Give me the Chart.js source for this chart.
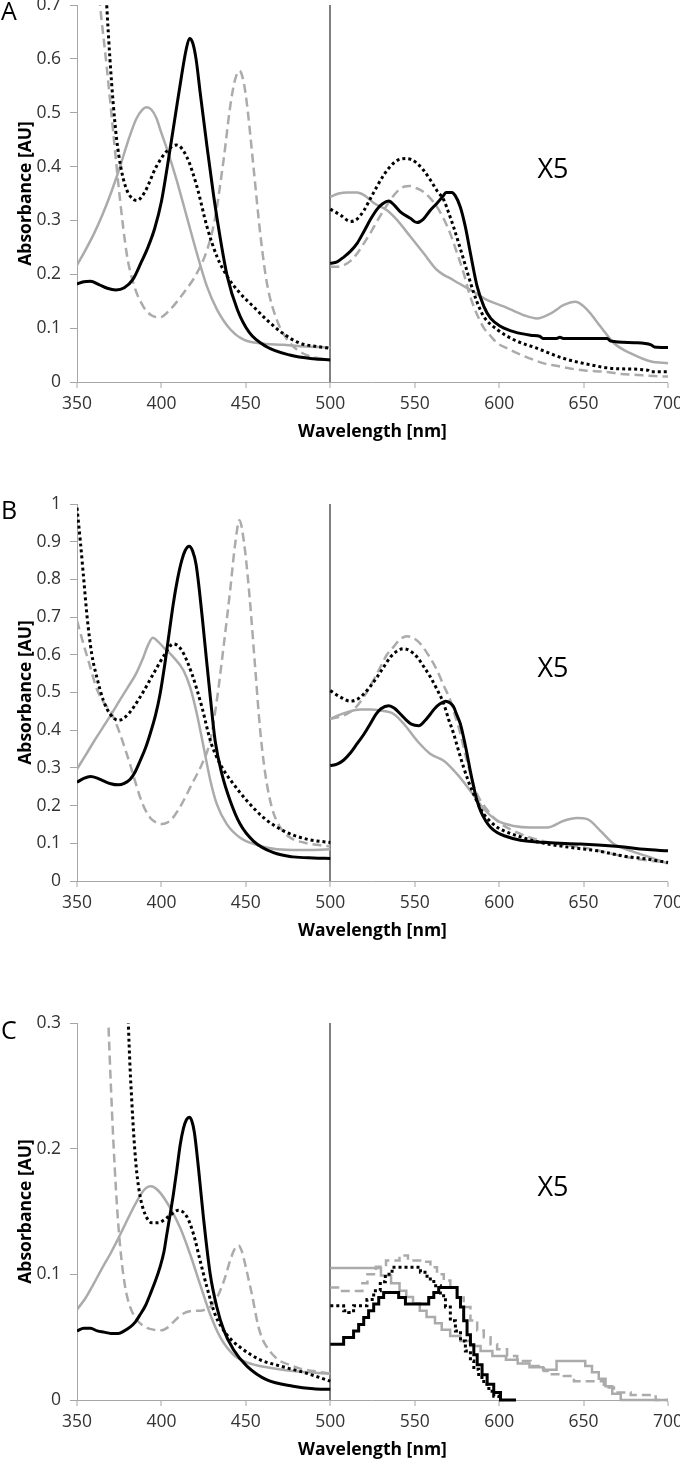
<!DOCTYPE html>
<html>
<head>
<meta charset="utf-8">
<script src="https://cdn.jsdelivr.net/npm/chart.js@4.4.1/dist/chart.umd.min.js"></script>
<style>
  html, body { margin: 0; padding: 0; background: #fff; overflow: hidden; }
  .panel { position: absolute; left: 0; width: 680px; height: 459px; }
</style>
</head>
<body>
<div class="panel" style="top:-15px"><canvas id="chartA"></canvas></div>
<div class="panel" style="top:484px"><canvas id="chartB"></canvas></div>
<div class="panel" style="top:1003px"><canvas id="chartC"></canvas></div>
<script>
// [wavelength nm, absorbance AU]; right halves (500-700 nm) are shown x5
const xTicks = [350, 400, 450, 500, 550, 600, 650, 700];

// ---- panel A ----
const aBlackL = [[350,0.182],[354,0.186],[358,0.187],[363,0.181],[368,0.174],[373,0.171],[378,0.175],[383,0.19],[388,0.222],[392,0.25],[396,0.285],[400,0.335],[404,0.41],[408,0.49],[412,0.57],[414.5,0.615],[416.6,0.638],[418.5,0.63],[420.5,0.6],[423,0.536],[427,0.437],[431,0.344],[435,0.264],[439,0.196],[445,0.134],[452,0.092],[462,0.066],[476,0.05],[490,0.043],[500,0.041]];
const aDotL = [[363,1.0],[366,0.8],[367.6,0.7],[369.5,0.6],[371.5,0.515],[373.5,0.45],[376,0.398],[378.5,0.365],[381.5,0.345],[385.5,0.337],[390,0.352],[397,0.4],[403,0.428],[409,0.44],[415,0.418],[421,0.363],[427,0.288],[433,0.232],[439,0.196],[446.5,0.165],[454.5,0.14],[462.5,0.115],[472,0.09],[482,0.072],[492,0.066],[500,0.0625]];
const aGreyL = [[350,0.217],[355,0.245],[360,0.275],[365,0.31],[370,0.35],[375,0.395],[380,0.445],[385,0.488],[388.5,0.505],[391.3,0.51],[394,0.506],[397,0.49],[400,0.462],[403,0.435],[409,0.375],[415,0.307],[421,0.239],[427,0.177],[433,0.134],[441,0.097],[449,0.078],[458,0.072],[472,0.069],[486,0.066],[500,0.064]];
const aDashL = [[358,0.87],[361,0.78],[363.6,0.7],[367.6,0.585],[371.5,0.462],[375.5,0.338],[379.4,0.239],[383.4,0.183],[389.3,0.14],[394,0.124],[399,0.12],[405,0.134],[413,0.165],[421,0.202],[427,0.245],[431.5,0.3],[436.8,0.412],[440.7,0.511],[443.5,0.56],[446.2,0.578],[448.5,0.56],[450.6,0.517],[454.5,0.4],[458.5,0.276],[462.5,0.183],[468.4,0.115],[476.3,0.072],[486,0.05],[500,0.041]];
const aBlackR = [[500,0.22],[504,0.223],[508,0.232],[512,0.243],[516,0.258],[520,0.28],[524,0.303],[528,0.322],[531,0.331],[534.6,0.336],[538,0.328],[541.5,0.316],[547.4,0.304],[551.4,0.296],[555,0.302],[559,0.318],[563.2,0.332],[567,0.346],[568.5,0.352],[572,0.352],[574,0.346],[577,0.325],[580,0.288],[583,0.239],[587,0.177],[591,0.14],[595,0.118],[601,0.103],[609,0.093],[618.6,0.087],[624,0.085],[626,0.081],[634,0.081],[636,0.083],[638,0.081],[664,0.081],[666,0.076],[680,0.073],[690,0.069],[692,0.065],[700,0.064]];
const aDotR = [[500,0.321],[506,0.31],[512,0.298],[516,0.303],[520,0.319],[524,0.342],[528,0.365],[532,0.386],[536,0.402],[540,0.412],[544.5,0.415],[548,0.413],[551.4,0.406],[555,0.394],[559.3,0.375],[563,0.356],[567.2,0.338],[570,0.315],[573,0.288],[576,0.258],[579,0.227],[582,0.195],[585,0.165],[588,0.14],[591,0.121],[599,0.097],[609,0.078],[622.5,0.0625],[638,0.044],[654,0.032],[668,0.025],[688,0.022],[690,0.019],[700,0.019]];
const aGreyR = [[500,0.344],[505,0.35],[510,0.352],[516,0.352],[520,0.347],[526,0.332],[533.6,0.319],[539.5,0.301],[547.4,0.27],[555.3,0.239],[563.2,0.208],[573,0.189],[583,0.171],[593,0.152],[603,0.14],[614.6,0.124],[622.5,0.118],[630.4,0.127],[638.3,0.143],[645.3,0.149],[652.2,0.134],[660,0.103],[668,0.072],[678,0.053],[690,0.038],[700,0.035]];
const aDashR = [[500,0.214],[504,0.214],[508,0.217],[512,0.225],[516,0.239],[520,0.258],[524,0.278],[528,0.3],[532,0.321],[536,0.34],[540,0.355],[544,0.363],[547,0.364],[551,0.36],[555.3,0.353],[559,0.342],[563,0.326],[567,0.304],[571,0.276],[575,0.24],[579,0.202],[582,0.168],[585,0.14],[588,0.118],[591,0.1],[595,0.085],[599,0.072],[605,0.062],[611,0.053],[618,0.044],[626,0.035],[634,0.03],[642,0.025],[652,0.021],[662,0.019],[672,0.015],[682,0.013],[692,0.011],[700,0.01]];

// ---- panel B ----
const bBlackL = [[350,0.262],[354,0.272],[358,0.277],[362,0.273],[366,0.265],[370,0.258],[374.5,0.255],[378,0.259],[381.5,0.27],[384.5,0.29],[387.4,0.319],[390.5,0.352],[393.3,0.39],[396.5,0.44],[399.2,0.496],[402,0.575],[404.5,0.655],[407,0.735],[409.5,0.8],[412,0.85],[414,0.876],[416.4,0.888],[418.5,0.875],[420.5,0.84],[422.5,0.77],[424.5,0.685],[426.5,0.595],[428.9,0.49],[431.8,0.372],[435.8,0.284],[440.7,0.213],[446.6,0.151],[454.5,0.106],[466.4,0.075],[478,0.064],[490,0.061],[500,0.06]];
const bDotL = [[350,0.99],[352,0.9],[354,0.8],[356,0.7],[358.7,0.603],[361.7,0.541],[365.6,0.479],[369.6,0.443],[374.5,0.426],[380.4,0.443],[387.4,0.488],[395.3,0.55],[402.2,0.603],[407,0.629],[412,0.612],[418,0.55],[424,0.461],[429,0.372],[434.8,0.31],[442.7,0.257],[450.6,0.213],[460.5,0.168],[472.3,0.133],[486,0.111],[500,0.102]];
const bGreyL = [[350,0.297],[355,0.333],[360,0.37],[365,0.405],[370,0.44],[375,0.477],[380,0.513],[385,0.55],[389,0.59],[392,0.625],[394.9,0.645],[398,0.635],[401.2,0.62],[407.1,0.594],[413,0.559],[417,0.514],[421,0.443],[425,0.355],[429,0.266],[432.8,0.204],[438.7,0.151],[446.6,0.115],[456.5,0.096],[468.4,0.084],[482,0.082],[500,0.084]];
const bDashL = [[350,0.691],[353.8,0.629],[357.7,0.57],[361.7,0.51],[365.6,0.475],[369.6,0.452],[372.5,0.425],[375.5,0.39],[378.5,0.35],[381.4,0.31],[384.4,0.265],[387.4,0.222],[390.3,0.19],[393.3,0.168],[396.5,0.156],[400.2,0.151],[403,0.154],[406.1,0.164],[412,0.204],[418,0.257],[424,0.31],[428.9,0.372],[432.8,0.479],[436.8,0.621],[440.7,0.771],[443.7,0.895],[446.2,0.957],[449,0.895],[452.2,0.754],[455.5,0.567],[458.5,0.399],[461.5,0.284],[465.4,0.195],[470.4,0.142],[476.3,0.115],[484.2,0.102],[492,0.096],[500,0.092]];
const bBlackR = [[500,0.306],[504,0.31],[508,0.321],[512,0.34],[516,0.365],[520,0.39],[523.7,0.417],[527,0.442],[530,0.457],[534.6,0.465],[538,0.458],[541.5,0.443],[545,0.427],[548,0.416],[552.4,0.412],[556,0.425],[559.3,0.443],[562,0.458],[565,0.47],[568.2,0.477],[571,0.472],[573,0.462],[575,0.44],[577,0.417],[579,0.38],[581,0.337],[583,0.29],[585,0.248],[587,0.212],[589,0.186],[592,0.16],[595,0.142],[599,0.128],[603,0.12],[612.6,0.108],[628.5,0.102],[648,0.098],[674,0.09],[686,0.084],[700,0.08]];
const bDotR = [[500,0.505],[505.9,0.488],[511.9,0.477],[516,0.482],[519.8,0.496],[524,0.518],[527.7,0.541],[532,0.57],[535.6,0.594],[540,0.611],[543.5,0.616],[547,0.611],[551.4,0.594],[555,0.571],[559.3,0.541],[563,0.51],[567.2,0.47],[570,0.43],[573.1,0.39],[576,0.345],[579,0.301],[582,0.262],[585,0.23],[588,0.2],[591,0.177],[595,0.157],[599,0.142],[605,0.129],[610.7,0.12],[624.5,0.102],[642.3,0.089],[658,0.08],[674,0.066],[688,0.058],[700,0.049]];
const bGreyR = [[500,0.43],[505,0.44],[510,0.448],[517.8,0.455],[524,0.455],[529.6,0.452],[537.5,0.443],[543.5,0.417],[551.4,0.372],[559.3,0.337],[567.2,0.319],[575,0.284],[583,0.239],[591,0.191],[599,0.16],[608.7,0.146],[618.6,0.142],[628.5,0.142],[638.3,0.16],[646.2,0.167],[652.2,0.164],[660,0.133],[668,0.098],[678,0.08],[690,0.062],[700,0.046]];
const bDashR = [[500,0.43],[505,0.435],[509.9,0.443],[515,0.46],[519.8,0.488],[524,0.52],[529.6,0.567],[533.5,0.6],[537.5,0.621],[541,0.64],[545.5,0.649],[549,0.645],[553.4,0.629],[558,0.6],[563.2,0.559],[567,0.52],[571.1,0.479],[574,0.437],[577.1,0.39],[580,0.335],[583,0.284],[586,0.24],[589,0.213],[593,0.188],[596.8,0.168],[601,0.152],[606.7,0.137],[618.6,0.115],[634.4,0.098],[650,0.089],[668,0.071],[682,0.058],[700,0.049]];

// ---- panel C ----
const cBlackL = [[350,0.055],[354,0.057],[358,0.057],[362,0.055],[366,0.054],[370,0.053],[374.5,0.053],[378,0.055],[381.4,0.058],[384.5,0.062],[387.4,0.068],[390.5,0.075],[393.3,0.084],[396.5,0.095],[399.2,0.106],[401.5,0.118],[403.2,0.132],[405.2,0.148],[407.1,0.164],[409.2,0.184],[411.1,0.203],[413,0.216],[414.8,0.223],[416.6,0.225],[418,0.222],[419.5,0.213],[421.9,0.185],[424.9,0.145],[428.9,0.1],[432.8,0.074],[436.8,0.056],[442.7,0.04],[450.6,0.027],[462.5,0.016],[478,0.011],[490,0.009],[500,0.0085]];
const cDotL = [[377.5,0.45],[379,0.36],[380.4,0.3],[381.4,0.265],[382.4,0.239],[383.8,0.207],[385.4,0.181],[387.4,0.162],[390.3,0.148],[394.3,0.141],[398,0.141],[401.2,0.143],[405.1,0.147],[410.1,0.151],[415,0.146],[419,0.132],[422.9,0.111],[426.9,0.09],[431.8,0.068],[438.7,0.052],[446.6,0.042],[458.5,0.032],[470.4,0.027],[484.2,0.022],[500,0.015]];
const cGreyL = [[350,0.072],[355,0.081],[359.7,0.092],[364.5,0.104],[369.6,0.116],[373.5,0.126],[377.5,0.137],[381.5,0.148],[385.4,0.158],[388,0.164],[390.3,0.168],[393.3,0.17],[396,0.169],[399.2,0.165],[405.1,0.153],[411.1,0.137],[417,0.116],[422.9,0.092],[428.9,0.068],[434.8,0.05],[442.7,0.036],[450.6,0.03],[462.5,0.026],[478,0.023],[500,0.021]];
const cDashL = [[365,0.43],[367,0.36],[368.6,0.3],[370,0.252],[371.5,0.207],[373.1,0.167],[374.9,0.132],[377.1,0.103],[379.4,0.084],[383.4,0.068],[389.3,0.059],[395.3,0.056],[400,0.0555],[404,0.058],[407.1,0.062],[411,0.067],[415,0.07],[419,0.071],[422.9,0.071],[426,0.072],[428.9,0.074],[431.8,0.079],[434.8,0.087],[437.8,0.098],[440.7,0.111],[443.3,0.12],[445.7,0.123],[447.7,0.118],[449.6,0.108],[451.6,0.096],[453.6,0.084],[455.6,0.07],[457.5,0.058],[460,0.048],[462.5,0.042],[466,0.036],[470.4,0.031],[476,0.028],[482.2,0.025],[490,0.023],[500,0.021]];
// stepped: each point is where the reading changes to the new level
const cBlackR = [[500,0.0444],[507.9,0.0497],[513.8,0.055],[516.8,0.06],[519.8,0.0657],[522.7,0.071],[525.7,0.0763],[528.7,0.0816],[531.6,0.0856],[540.5,0.0816],[544.5,0.0763],[558.3,0.0816],[561.3,0.0856],[564.2,0.0896],[575.1,0.0816],[577.1,0.074],[579,0.063],[581,0.052],[583,0.044],[585,0.036],[587,0.028],[589.9,0.02],[592.9,0.0125],[596.8,0.006],[600.8,0],[610,0]];
const cDotR = [[500,0.075],[507.9,0.071],[510.9,0.0697],[513.8,0.075],[521.7,0.08],[525.7,0.087],[529.6,0.094],[532.6,0.1],[536.6,0.1056],[553.4,0.1016],[557.3,0.0963],[561.3,0.091],[565.2,0.083],[568.2,0.074],[571.1,0.063],[574.1,0.055],[577.1,0.047],[580,0.039],[583,0.031],[585,0.0245],[587.9,0.018],[590.9,0.0125],[593.9,0.007],[596.8,0.003],[599.8,0]];
const cGreyR = [[500,0.105],[530,0.099],[536,0.093],[541,0.087],[545,0.082],[549,0.077],[553,0.071],[557,0.066],[562,0.061],[566,0.056],[571,0.051],[577,0.047],[583,0.043],[589,0.039],[596,0.035],[604,0.032],[611,0.029],[618,0.026],[626,0.024],[634,0.031],[651,0.027],[655,0.022],[659,0.017],[663,0.011],[667,0.005],[672,0],[700,0]];
const cDashR = [[500,0.0896],[506,0.0868],[519,0.093],[522,0.1],[527,0.106],[533,0.111],[541,0.115],[546,0.111],[555.3,0.11],[559.3,0.1056],[563.2,0.1],[567.2,0.095],[571.1,0.0896],[575.1,0.0816],[579,0.074],[583,0.0633],[587,0.0553],[590.9,0.05],[594.9,0.0444],[598.8,0.0404],[604.7,0.035],[610.7,0.031],[618.6,0.0271],[626.5,0.0231],[630.4,0.0205],[638.3,0.019],[644.3,0.015],[662,0.01],[668,0.006],[677.9,0.004],[692.7,0],[700,0]];

Chart.defaults.font.family = "'Open Sans', sans-serif";

const BLACK = '#000000';
const GREY = '#ababab';

function line(points, color, width, dash, stepped) {
  return {
    data: points.map(p => ({ x: p[0], y: p[1] })),
    borderColor: color,
    borderWidth: width,
    borderDash: dash,
    borderCapStyle: 'butt',
    pointRadius: 0,
    fill: false,
    cubicInterpolationMode: 'monotone',
    stepped: stepped ? 'before' : false,
    clip: { left: 0, top: 0, right: 2, bottom: 3 }
  };
}

const labels = {
  id: 'panelLabels',
  afterDraw(chart, args, opts) {
    const ctx = chart.ctx;
    ctx.save();
    ctx.fillStyle = '#000';
    ctx.textBaseline = 'middle';
    ctx.textAlign = 'left';
    ctx.font = "25px 'Open Sans'";
    ctx.fillText(opts.letter, 1, opts.letterY);
    ctx.textAlign = 'center';
    ctx.font = "27px 'Open Sans'";
    ctx.fillText('X5', 553, 185);
    ctx.restore();
  }
};

function makePanel(id, letter, letterY, yMax, s, stepRight) {
  new Chart(document.getElementById(id), {
    type: 'line',
    data: {
      datasets: [
        line(s.blackL, BLACK, 3, [], false),
        line(s.blackR, BLACK, 3, [], stepRight),
        line(s.dotL, BLACK, 3, [3, 3], false),
        line(s.dotR, BLACK, 3, [3, 3], stepRight),
        line(s.greyL, GREY, 2.5, [], false),
        line(s.greyR, GREY, 2.5, [], stepRight),
        line(s.dashL, GREY, 2.5, [9, 5], false),
        line(s.dashR, GREY, 2.5, [9, 5], stepRight)
      ]
    },
    plugins: [labels],
    options: {
      responsive: true,
      maintainAspectRatio: false,
      animation: false,
      layout: { padding: { top: 20, right: 12, left: 0, bottom: 0 } },
      plugins: {
        legend: { display: false },
        tooltip: { enabled: false },
        panelLabels: { letter: letter, letterY: letterY }
      },
      scales: {
        x: {
          type: 'linear',
          min: 350,
          max: 700,
          afterBuildTicks: sc => { sc.ticks = xTicks.map(v => ({ value: v })); },
          ticks: { color: '#333', font: { size: 17.5 }, padding: 6, maxRotation: 0 },
          grid: {
            color: c => (c.tick && c.tick.value === 500) ? '#7f7f7f' : 'rgba(0,0,0,0)',
            lineWidth: c => (c.tick && c.tick.value === 500) ? 2 : 0,
            tickColor: '#a6a6a6',
            tickWidth: 1,
            tickLength: 6
          },
          border: { color: '#a6a6a6', width: 1 },
          title: {
            display: true,
            text: 'Wavelength [nm]',
            color: '#000',
            font: { size: 17.5, weight: 'bold' },
            padding: { top: 0, bottom: 1.5 }
          },
          afterFit: sc => { sc.height = 62; sc.paddingLeft = 0; sc.paddingRight = 0; }
        },
        y: {
          min: 0,
          max: yMax,
          ticks: {
            stepSize: 0.1,
            color: '#333',
            font: { size: 17.5 },
            padding: 9,
            callback: v => String(+v.toFixed(2))
          },
          grid: { drawOnChartArea: false, tickColor: '#a6a6a6', tickWidth: 1, tickLength: 7 },
          border: { color: '#a6a6a6', width: 1 },
          title: {
            display: true,
            text: 'Absorbance [AU]',
            color: '#000',
            font: { size: 17.5, weight: 'bold' },
            padding: { top: 15.5, bottom: 0 }
          },
          afterFit: sc => { sc.width = 77; sc.paddingTop = 0; sc.paddingBottom = 0; }
        }
      }
    }
  });
}

makePanel('chartA', 'A', 28, 0.7, {
  blackL: aBlackL, blackR: aBlackR, dotL: aDotL, dotR: aDotR,
  greyL: aGreyL, greyR: aGreyR, dashL: aDashL, dashR: aDashR
}, false);
makePanel('chartB', 'B', 28, 1, {
  blackL: bBlackL, blackR: bBlackR, dotL: bDotL, dotR: bDotR,
  greyL: bGreyL, greyR: bGreyR, dashL: bDashL, dashR: bDashR
}, false);
makePanel('chartC', 'C', 29, 0.3, {
  blackL: cBlackL, blackR: cBlackR, dotL: cDotL, dotR: cDotR,
  greyL: cGreyL, greyR: cGreyR, dashL: cDashL, dashR: cDashR
}, true);
</script>
</body>
</html>
